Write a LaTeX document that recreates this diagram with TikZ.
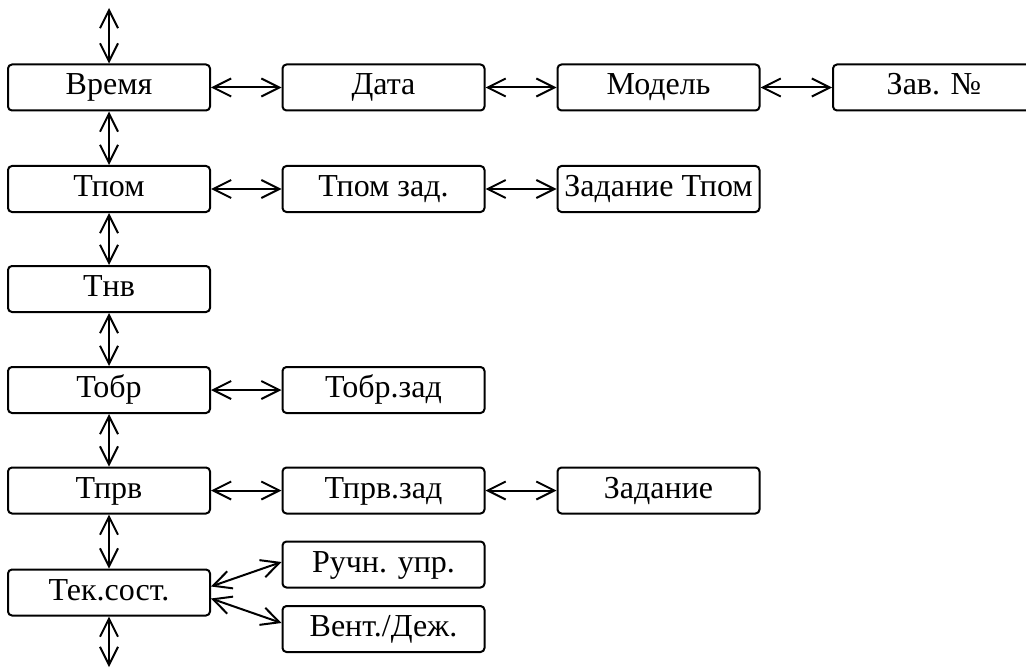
\documentclass[tikz,border=0pt]{standalone}
\usepackage{fontspec}
\setmainfont{Liberation Serif}
\usetikzlibrary{arrows.meta,calc}
\begin{document}
\begin{tikzpicture}[x=0.5pt,y=-0.5pt,
  box/.style={draw,line width=1pt,rounded corners=2pt,minimum width=101pt,minimum height=23pt,inner sep=0pt,text height=10pt,text depth=2.5pt,font=\fontsize{16}{19}\selectfont},
  link/.style={line width=1pt,{Straight Barb[length=9pt,width=9pt]}-{Straight Barb[length=9pt,width=9pt]}}]
\clip (0,0) rectangle (1026,668);
\node[box] (vremya) at (109,87.5) {Время};
\node[box] (data) at (383.5,87.5) {Дата};
\node[box] (model) at (658.5,87.5) {Модель};
\node[box] (zav) at (934,87.5) {Зав. №};
\node[box] (tpom) at (109,189) {Тпом};
\node[box] (tpomzad) at (383.5,189) {Тпом зад.};
\node[box] (zadtpom) at (658.5,189) {Задание Тпом};
\node[box] (tnv) at (109,289) {Тнв};
\node[box] (tobr) at (109,390) {Тобр};
\node[box] (tobrzad) at (383.5,390) {Тобр.зад};
\node[box] (tprv) at (109,490.5) {Тпрв};
\node[box] (tprvzad) at (383.5,490.5) {Тпрв.зад};
\node[box] (zadanie) at (658.5,490.5) {Задание};
\node[box] (tek) at (109,592.5) {Тек.сост.};
\node[box] (ruchn) at (383.5,564.5) {Ручн. упр.};
\node[box] (vent) at (383.5,629) {Вент./Деж.};
\coordinate (topend) at (109,8);
\coordinate (botend) at (109,667);
\draw[link] (vremya.north) -- (topend);
\draw[link] (vremya) -- (data);
\draw[link] (data) -- (model);
\draw[link] (model) -- (zav);
\draw[link] (vremya) -- (tpom);
\draw[link] (tpom) -- (tpomzad);
\draw[link] (tpomzad) -- (zadtpom);
\draw[link] (tpom) -- (tnv);
\draw[link] (tnv) -- (tobr);
\draw[link] (tobr) -- (tobrzad);
\draw[link] (tobr) -- (tprv);
\draw[link] (tprv) -- (tprvzad);
\draw[link] (tprvzad) -- (zadanie);
\draw[link] (tprv) -- (tek);
\draw[link] ($(tek.east)+(0,-6)$) -- ($(ruchn.west)+(0,-2.5)$);
\draw[link] ($(tek.east)+(0,6)$) -- ($(vent.west)+(0,-6)$);
\draw[link] (tek.south) -- (botend);
\end{tikzpicture}
\end{document}
